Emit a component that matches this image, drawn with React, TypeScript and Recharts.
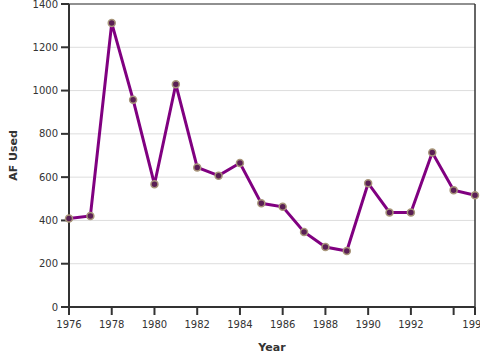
import { LineChart, Line, XAxis, YAxis, CartesianGrid, ReferenceLine } from "recharts";

// ── Data ───────────────────────────────────────────────────────────────────

const years = [
  1976, 1977, 1978, 1979, 1980, 1981, 1982, 1983, 1984, 1985,
  1986, 1987, 1988, 1989, 1990, 1991, 1992, 1993, 1994, 1995,
];
const afUsed = [
  409, 421, 1312, 958, 567, 1029, 645, 607, 665, 479,
  463, 347, 277, 259, 572, 437, 437, 714, 540, 516,
];
const xTicks = [1976, 1978, 1980, 1982, 1984, 1986, 1988, 1990, 1992, 1994, 1995];
const yTicks = [0, 200, 400, 600, 800, 1000, 1200, 1400];

const data = years.map((year, i) => ({ year, af: afUsed[i] }));

const FONT = "'DejaVu Sans', sans-serif";
const tickStyle = { fill: "#333", fontSize: 10, fontFamily: FONT };

export default function App() {
  return (
    <div style={{ position: "absolute", left: 0, top: 0, width: 480, height: 360, background: "#fff" }}>
      <LineChart width={480} height={360} data={data} margin={{ top: 4, right: 5, bottom: 5, left: 0 }}>
        <CartesianGrid stroke="#ddd" vertical={false} />
        <XAxis
          dataKey="year"
          type="number"
          domain={[1976, 1995]}
          ticks={xTicks}
          tickFormatter={(v) => (v === 1994 ? "" : String(v))}
          tick={tickStyle}
          tickSize={8}
          tickMargin={6}
          stroke="#333"
          strokeWidth={2}
          height={48}
          interval={0}
          label={{ value: "Year", position: "insideBottom", offset: 4, fill: "#333", fontSize: 11, fontWeight: "bold", fontFamily: FONT }}
        />
        <YAxis
          domain={[0, 1400]}
          ticks={yTicks}
          tick={tickStyle}
          tickSize={8}
          tickMargin={3}
          stroke="#333"
          strokeWidth={2}
          width={69}
          interval={0}
          label={{ value: "AF Used", angle: -90, position: "insideLeft", offset: 13, fill: "#333", fontSize: 11, fontWeight: "bold", fontFamily: FONT, style: { textAnchor: "middle" } }}
        />
        {/* frame top / right */}
        <ReferenceLine y={1400} stroke="#333" strokeWidth={1} />
        <ReferenceLine x={1995} stroke="#333" strokeWidth={1.5} />
        <Line
          dataKey="af"
          stroke="#800080"
          strokeWidth={3}
          dot={{ r: 3.5, fill: "#5a1f55", stroke: "#a8967a", strokeWidth: 1.5 }}
          activeDot={false}
          isAnimationActive={false}
        />
      </LineChart>
    </div>
  );
}
